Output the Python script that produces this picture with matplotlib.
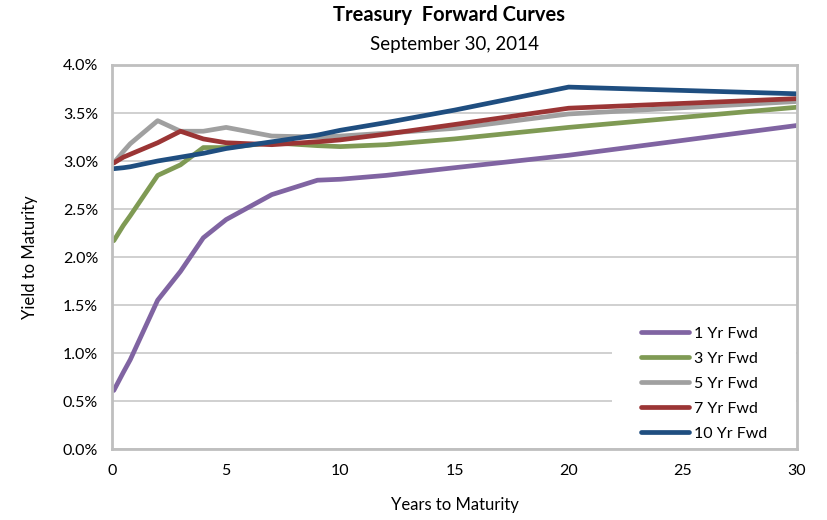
import matplotlib.pyplot as plt
from matplotlib.ticker import FuncFormatter
from matplotlib.patches import Rectangle

# years to maturity (shared by all curves)
years = [0.08, 0.5, 0.8, 2, 3, 4, 5, 7, 9, 10, 12, 15, 20, 30]

# yields in percent
fwd_1yr = [0.61, 0.80, 0.93, 1.55, 1.85, 2.20, 2.39, 2.65, 2.80, 2.81, 2.85, 2.93, 3.06, 3.37]
fwd_3yr = [2.17, 2.33, 2.43, 2.85, 2.96, 3.14, 3.14, 3.19, 3.16, 3.15, 3.17, 3.23, 3.35, 3.56]
fwd_5yr = [2.98, 3.10, 3.18, 3.42, 3.31, 3.31, 3.35, 3.26, 3.25, 3.26, 3.29, 3.34, 3.49, 3.62]
fwd_7yr = [2.98, 3.04, 3.07, 3.19, 3.31, 3.23, 3.19, 3.17, 3.20, 3.22, 3.28, 3.38, 3.55, 3.65]
fwd_10yr = [2.92, 2.93, 2.94, 3.00, 3.04, 3.08, 3.13, 3.20, 3.27, 3.32, 3.40, 3.53, 3.77, 3.70]

labels = ["1 Yr Fwd", "3 Yr Fwd", "5 Yr Fwd", "7 Yr Fwd", "10 Yr Fwd"]
colors = ["#8064A2", "#7F9A54", "#A0A0A0", "#9B3535", "#1F4E80"]

plt.rcParams['font.family'] = ['Lato', 'DejaVu Sans']

fig = plt.figure(figsize=(8.27, 5.2), dpi=100)
ax = fig.add_axes([0.1354, 0.1365, 0.8283, 0.7385])

for ys, lab, c in zip([fwd_1yr, fwd_3yr, fwd_5yr, fwd_7yr, fwd_10yr], labels, colors):
    ax.plot(years, ys, color=c, lw=3.4, label=lab, solid_capstyle='round', zorder=3)

ax.set_xlim(0, 30)
ax.set_ylim(0, 4.0)
ax.set_xticks(range(0, 31, 5))
ax.set_yticks([i * 0.5 for i in range(9)])
ax.yaxis.set_major_formatter(FuncFormatter(lambda v, p: f"{v:.1f}%"))
ax.tick_params(length=0, labelsize=11.5, pad=10)
ax.tick_params(axis='x', pad=11)
ax.grid(axis='y', color='#C8C8C8', lw=1.2, zorder=0)
ax.set_axisbelow(True)
for s in ax.spines.values():
    s.set_color('#BFBFBF')
    s.set_linewidth(2)
    s.set_zorder(6)

ax.set_xlabel("Years to Maturity", fontsize=12)
ax.set_ylabel("Yield to Maturity", fontsize=12)
ax.xaxis.set_label_coords(0.5, -0.125)
ax.yaxis.set_label_coords(-0.108, 0.5)

fig.text(0.543, 0.972, "Treasury  Forward Curves", ha='center', va='center',
         fontsize=14.5, fontweight='bold')
fig.text(0.549, 0.915, "September 30, 2014", ha='center', va='center', fontsize=13.5)

# white legend area, wider than the entries
ax.add_patch(Rectangle((0.730, 0.003), 0.268, 0.354, transform=ax.transAxes,
                       facecolor='white', edgecolor='none', zorder=4))
leg = ax.legend(loc='upper left', bbox_to_anchor=(0.772, 0.319), frameon=False,
                fontsize=11.5, handlelength=3.0, handletextpad=0.35,
                labelspacing=0.68, borderpad=0, borderaxespad=0)
leg.set_zorder(5)

fig.savefig("out.png", dpi=100)
